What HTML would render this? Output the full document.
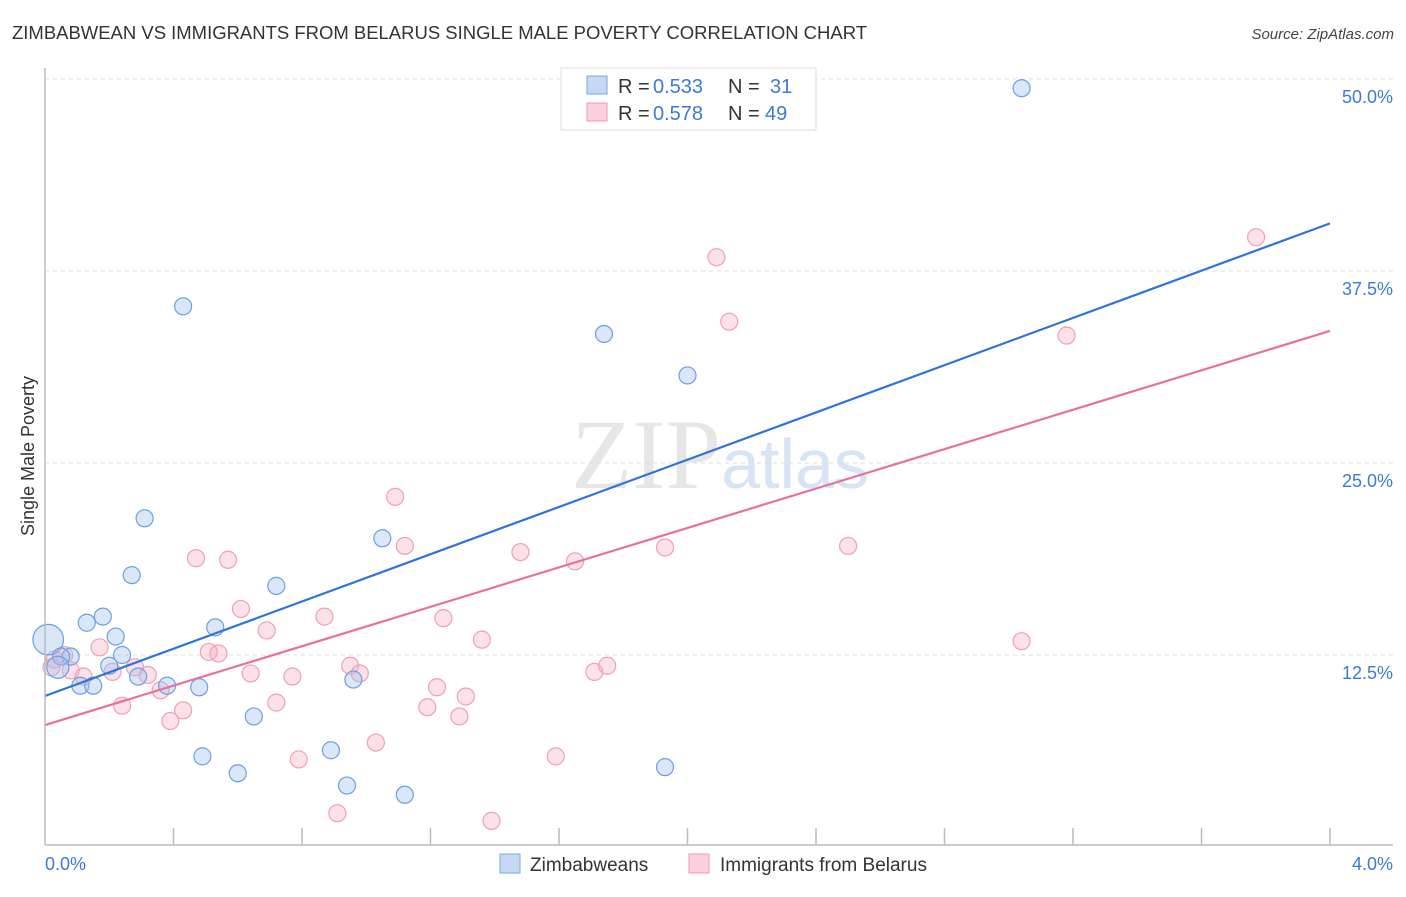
<!DOCTYPE html>
<html><head><meta charset="utf-8"><style>
body{margin:0;background:#fff;font-family:"Liberation Sans",sans-serif}
</style></head><body>
<svg id="c" width="1406" height="892" xmlns="http://www.w3.org/2000/svg" font-family="Liberation Sans, sans-serif">
<text x="12" y="39" font-size="18" fill="#333" textLength="855" lengthAdjust="spacingAndGlyphs">ZIMBABWEAN VS IMMIGRANTS FROM BELARUS SINGLE MALE POVERTY CORRELATION CHART</text>
<text x="1394" y="39" font-size="15" fill="#444" text-anchor="end" font-style="italic">Source: ZipAtlas.com</text>
<text x="720" y="488" font-size="100" text-anchor="middle" fill="#e6e6e6" font-family="Liberation Serif, serif">ZIP<tspan fill="#d6e4f5" font-family="Liberation Sans, sans-serif" font-size="70">atlas</tspan></text>
<text transform="translate(34,456) rotate(-90)" font-size="18" fill="#333" text-anchor="middle">Single Male Poverty</text>
<g id="grid"></g><g id="pts"></g><g id="lines"></g>
<line x1="45" y1="68" x2="45" y2="845" stroke="#bbb" stroke-width="1.5"/>
<line x1="45" y1="845" x2="1393" y2="845" stroke="#bbb" stroke-width="1.5"/>
<text x="45" y="870" font-size="18" fill="#3a7bd5">0.0%</text>
<text x="1393" y="870" font-size="18" fill="#3a7bd5" text-anchor="end">4.0%</text>
<g font-size="20">
<rect x="561" y="68" width="255" height="62" fill="#fff" stroke="#ddd"/>
<rect x="587" y="76" width="20" height="18" fill="#c5d9f5" stroke="#7aa6e0"/>
<rect x="587" y="103" width="20" height="18" fill="#fbd0dc" stroke="#ee9ab2"/>
<text x="618" y="93" fill="#333">R =</text><text x="653" y="93" fill="#3a7bd5">0.533</text>
<text x="728" y="93" fill="#333">N =</text><text x="770" y="93" fill="#3a7bd5">31</text>
<text x="618" y="120" fill="#333">R =</text><text x="653" y="120" fill="#3a7bd5">0.578</text>
<text x="728" y="120" fill="#333">N =</text><text x="765" y="120" fill="#3a7bd5">49</text>
</g>
<g>
<rect x="500" y="854" width="20" height="19" fill="#c5d9f5" stroke="#7aa6e0"/>
<text x="530" y="871" font-size="19" fill="#333">Zimbabweans</text>
<rect x="689" y="854" width="20" height="19" fill="#fbd0dc" stroke="#ee9ab2"/>
<text x="720" y="871" font-size="19" fill="#333">Immigrants from Belarus</text>
</g>
</svg>
<script>
const yTicks=[12.5,25,37.5,50];
const yTickLabels=["12.5%","25.0%","37.5%","50.0%"];
const xTicks=[0.4,0.8,1.2,1.6,2.0,2.4,2.8,3.2,3.6,4.0];
const blueX=[3.04,0.43,1.74,2.00,0.31,1.05,0.27,0.72,0.18,0.13,0.53,0.22,0.01,0.08,0.24,0.05,0.20,0.29,0.38,0.11,0.15,0.48,0.96,0.65,0.89,0.49,0.60,1.93,0.94,1.12,0.04];
const blueY=[49.4,35.2,33.4,30.7,21.4,20.1,17.7,17.0,15.0,14.6,14.3,13.7,13.5,12.4,12.5,12.4,11.8,11.1,10.5,10.5,10.5,10.4,10.9,8.5,6.3,5.9,4.8,5.2,4.0,3.4,11.7];
const blueSize=[1,1,1,1,1,1,1,1,1,1,1,1,1.8,1,1,1,1,1,1,1,1,1,1,1,1,1,1,1,1,1,1.3];
const pinkX=[3.77,2.09,2.13,3.18,1.09,1.12,1.48,1.93,2.50,1.65,0.47,0.57,0.61,0.87,1.24,0.69,1.36,3.04,0.17,0.51,0.54,0.06,0.02,0.08,0.12,0.21,0.32,0.95,0.98,1.71,1.75,0.64,0.77,0.36,1.22,1.31,0.43,0.24,1.19,1.29,0.39,0.72,1.03,0.79,1.59,0.91,1.39,0.03,0.28];
const pinkY=[39.7,38.4,34.2,33.3,22.8,19.6,19.2,19.5,19.6,18.6,18.8,18.7,15.5,15.0,14.9,14.1,13.5,13.4,13.0,12.7,12.6,12.5,11.7,11.5,11.1,11.4,11.2,11.8,11.3,11.4,11.8,11.3,11.1,10.2,10.4,9.8,8.9,9.2,9.1,8.5,8.2,9.4,6.8,5.7,5.9,2.2,1.7,12.2,11.7];
const blueTrend=[9.83,40.6];
const pinkTrend=[7.94,33.6];
const NS="http://www.w3.org/2000/svg";
const X=v=>45+v/4*1285, Y=v=>847-v/12.5*192;
function mk(t,a,p){const e=document.createElementNS(NS,t);for(const k in a)e.setAttribute(k,a[k]);p.appendChild(e);return e;}
const g=document.getElementById('grid');
yTicks.forEach((t,i)=>{
 const l=mk('line',{x1:45,x2:1393,y1:Y(t),y2:Y(t),stroke:'#ddd','stroke-dasharray':'4,4'},g);
 
 
 const tx=mk('text',{x:1393,y:Y(t)+24,'font-size':18,fill:'#3a7bd5','text-anchor':'end'},g);
 tx.textContent=yTickLabels[i];
 
 
});
xTicks.forEach(t=>{
 const l=mk('line',{x1:X(t),x2:X(t),y1:828,y2:845,stroke:'#bbb','stroke-width':1.5},g);
 
 
});
const p=document.getElementById('pts');
pinkX.forEach((x,i)=>{
 const c=mk('circle',{cx:X(x),cy:Y(pinkY[i]),r:8.5,fill:'rgba(246,170,192,0.35)',stroke:'#eea0b6','stroke-width':1.2},p);
 
 
});
blueX.forEach((x,i)=>{
 const c=mk('circle',{cx:X(x),cy:Y(blueY[i]),r:8.5*blueSize[i],fill:'rgba(160,196,240,0.4)',stroke:'#6d9fe0','stroke-width':1.2},p);
 
 
});
const L=document.getElementById('lines');
const bl=mk('line',{x1:X(0),y1:Y(blueTrend[0]),x2:X(4),y2:Y(blueTrend[1]),stroke:'#2f74d8','stroke-width':2.2},L);


const pl=mk('line',{x1:X(0),y1:Y(pinkTrend[0]),x2:X(4),y2:Y(pinkTrend[1]),stroke:'#e8709a','stroke-width':2.2},L);


</script>
</body></html>
